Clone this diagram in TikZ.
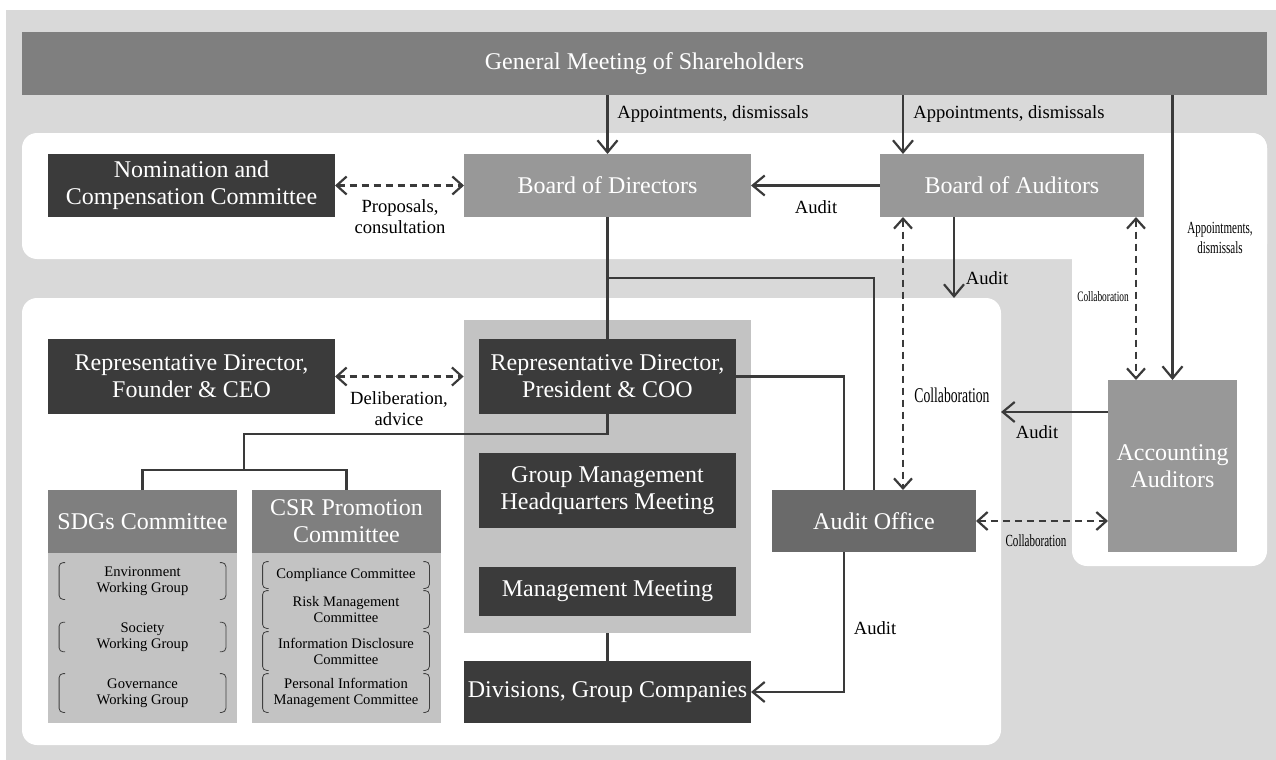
\documentclass[tikz,border=0pt]{standalone}
\usepackage{fontspec}
\setmainfont{Liberation Serif}
\newfontfamily\narrowfont{Liberation Serif}[FakeStretch=0.65]
\usetikzlibrary{arrows.meta,calc}

\definecolor{bggray}{HTML}{D9D9D9}
\definecolor{bargray}{HTML}{7F7F7F}
\definecolor{boxdark}{HTML}{3B3B3B}
\definecolor{boxmid}{HTML}{989898}
\definecolor{boxaudit}{HTML}{6A6A6A}
\definecolor{panelgray}{HTML}{C3C3C3}
\definecolor{linegray}{HTML}{3A3A3A}

\begin{document}
\begin{tikzpicture}[x=0.5pt,y=-0.5pt,
    box/.style={rectangle, inner sep=0pt, outer sep=0pt, text=white, align=center,
                font=\fontsize{12}{13.5}\selectfont},
    darkbox/.style={box, fill=boxdark},
    midbox/.style={box, fill=boxmid},
    panel/.style={fill=white, inner sep=0pt, outer sep=0pt, rounded corners=7.5pt},
    item/.style={inner sep=0pt, align=center, font=\fontsize{7.3}{8}\selectfont},
    brk/.style={draw=black!75, line width=0.4pt, rounded corners=2pt},
    lbl/.style={inner sep=0pt, align=center, font=\fontsize{9.3}{10.5}\selectfont},
    small/.style={inner sep=0pt, align=center, font=\narrowfont\fontsize{8.5}{10}\selectfont},
    conn/.style={draw=linegray, line width=1.1pt},
    arr/.style={conn, -{Straight Barb[length=6pt,width=10pt]}},
    dash2/.style={conn, dash pattern=on 3.5pt off 2.5pt,
                  {Straight Barb[length=5pt,width=9pt]}-{Straight Barb[length=5pt,width=9pt]}},
  ]
\useasboundingbox (0,0) rectangle (1276,760);
\fill[bggray] (6,10) rectangle (1276,760);

% panels
\node[panel, minimum width=622.5pt, minimum height=63pt] (toppanel) at (644.5,196) {};
\node[panel, minimum width=97.5pt, minimum height=216.5pt] (rightpanel) at (1169.5,349.5) {};
\node[panel, minimum width=489.5pt, minimum height=223.5pt] (lowpanel) at (511.5,521.5) {};
\node[fill=panelgray, inner sep=0pt, minimum width=143.5pt, minimum height=156.5pt] (mgmt) at (607.5,476.5) {};

% boxes
\node[box, fill=bargray, minimum width=622.5pt, minimum height=31.5pt] (gm) at (644.5,63.5) {General Meeting of Shareholders};
\node[darkbox, minimum width=143.5pt, minimum height=31.5pt] (nom) at (191.5,185.5) {Nomination and\\Compensation Committee};
\node[midbox, minimum width=143.5pt, minimum height=31.5pt] (bod) at (607.5,185.5) {Board of Directors};
\node[midbox, minimum width=132pt, minimum height=31.5pt] (boa) at (1012,185.5) {Board of Auditors};
\node[darkbox, minimum width=143.5pt, minimum height=37.5pt] (ceo) at (191.5,376.5) {Representative Director,\\Founder \& CEO};
\node[darkbox, minimum width=128.5pt, minimum height=37.5pt] (coo) at (607.5,376.5) {Representative Director,\\President \& COO};
\node[darkbox, minimum width=128.5pt, minimum height=37.5pt] (ghq) at (607.5,490.5) {Group Management\\Headquarters Meeting};
\node[darkbox, minimum width=128.5pt, minimum height=24.5pt] (mm) at (607.5,591.5) {Management Meeting};
\node[darkbox, minimum width=143.5pt, minimum height=31pt] (div) at (607.5,692) {Divisions, Group Companies};
\node[box, fill=boxaudit, minimum width=102pt, minimum height=31pt] (aud) at (874,521) {Audit Office};
\node[midbox, minimum width=64.5pt, minimum height=86pt] (acc) at (1172.5,466) {Accounting\\Auditors};

% committees
\node[box, fill=bargray, minimum width=94.5pt, minimum height=31.5pt] (sdgs) at (142.5,521.5) {SDGs Committee};
\node[fill=panelgray, inner sep=0pt, minimum width=94.5pt, minimum height=85pt] (sdgsbody) at (142.5,638) {};
\node[box, fill=bargray, minimum width=94.5pt, minimum height=31.5pt] (csr) at (346.5,521.5) {CSR Promotion\\Committee};
\node[fill=panelgray, inner sep=0pt, minimum width=94.5pt, minimum height=85pt] (csrbody) at (346.5,638) {};

\foreach \nm/\x/\y/\h/\txt in {env/142.5/581/18/{Environment\\Working Group},
                              soc/142.5/637/13/{Society\\Working Group},
                              gov/142.5/693/19/{Governance\\Working Group},
                              cmp/346/575/13/{Compliance Committee},
                              rsk/346/609.5/18.5/{Risk Management\\Committee},
                              inf/346/651/19/{Information Disclosure\\Committee},
                              pim/346/693/19/{Personal Information\\Management Committee}}
{
  \node[item, minimum width=83pt, minimum height=\h pt] (\nm) at (\x,\y) {\txt};
  \draw[brk] ([xshift=3pt]\nm.north west) -- (\nm.north west) -- (\nm.south west) -- ([xshift=3pt]\nm.south west);
  \draw[brk] ([xshift=-3pt]\nm.north east) -- (\nm.north east) -- (\nm.south east) -- ([xshift=-3pt]\nm.south east);
}

% appointments
\coordinate (boal) at ($(boa.south west)+(23,0)$);
\coordinate (boam) at ($(boa.south west)+(74,0)$);
\coordinate (boar) at ($(boa.south east)+(-8,0)$);
\draw[arr] (gm.south -| bod.north) -- (bod.north);
\node[lbl, anchor=west] (apbod) at (617,114) {Appointments, dismissals};
\draw[arr] (gm.south -| boal) -- (boal |- boa.north);
\node[lbl, anchor=west] (apboa) at (913,114) {Appointments, dismissals};
\draw[arr] (gm.south -| acc.north) -- (acc.north);
\node[small] (apacc) at (1220,238) {Appointments,\\dismissals};

% board level
\draw[dash2] (nom.east) -- (bod.west);
\node[lbl] (prop) at (400,217) {Proposals,\\consultation};
\draw[arr] (boa.west) -- (bod.east);
\node[lbl] (audbod) at (816,207) {Audit};
\draw[arr] (boam) -- (boam |- lowpanel.north);
\node[lbl] (audlow) at (987,278) {Audit};
\draw[dash2] (boal) -- (boal |- aud.north);
\node[small, font=\narrowfont\fontsize{10.5}{12}\selectfont] (colaud) at (952,395) {Collaboration};
\draw[dash2] (boar) -- (boar |- acc.north);
\node[small, font=\narrowfont\fontsize{7.2}{8}\selectfont] (colacc) at (1103,297) {Collaboration};

% execution
\coordinate (bodj) at ($(bod.south)+(0,61)$);
\draw[conn] (bod.south) -- (coo.north);
\draw[conn] (bodj) -| (aud.north);
\draw[conn] (coo.east) -| ($(aud.north west)+(72,0)$);
\draw[dash2] (ceo.east) -- (ceo.east -| mgmt.west);
\node[lbl] (delib) at (399,409) {Deliberation,\\advice};
\coordinate (cmtj) at (244,470);
\draw[conn] (coo.south) -- ++(0,20) -| (cmtj);
\draw[conn] (sdgs.north) |- (cmtj) -| (csr.north);
\draw[conn] (mgmt.south) -- (div.north);
\coordinate (audb) at ($(aud.south west)+(72,0)$);
\draw[arr] (audb) |- (div.east);
\node[lbl] (auddiv) at (875,628) {Audit};

% accounting auditors
\coordinate (accw) at ($(acc.north west)+(0,32)$);
\draw[arr] (accw) -- (accw -| lowpanel.east);
\node[lbl] (audacc) at (1037,432) {Audit};
\draw[dash2] (aud.east) -- (aud.east -| acc.west);
\node[small] (colrt) at (1036,541) {Collaboration};
\end{tikzpicture}
\end{document}
